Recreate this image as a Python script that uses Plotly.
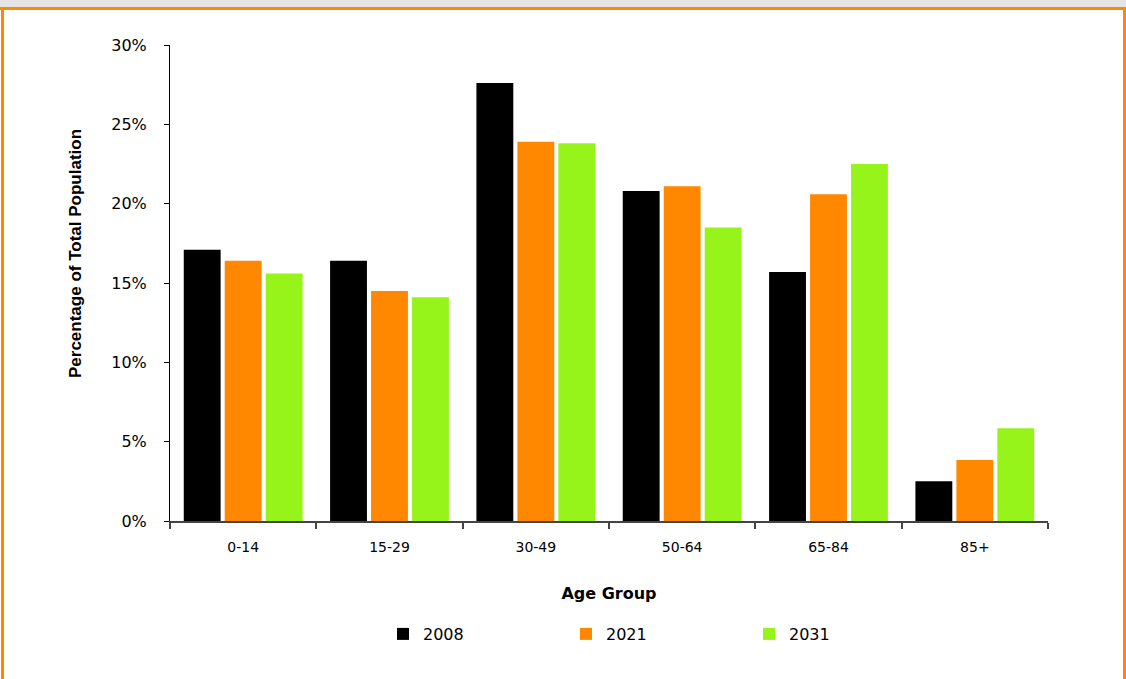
import plotly.graph_objects as go

categories = ["0-14", "15-29", "30-49", "50-64", "65-84", "85+"]
years = ["2008", "2021", "2031"]
v2008 = [17.1, 16.4, 27.6, 20.8, 15.7, 2.5]
v2021 = [16.4, 14.5, 23.9, 21.1, 20.6, 3.85]
v2031 = [15.6, 14.1, 23.8, 18.5, 22.5, 5.85]
colors = ["#000000", "#FF8800", "#96F41A"]

W, H = 1126, 679
L, R, T, B = 170, 78, 45, 158
pw, ph = W - L - R, H - T - B

def px(x):
    return (x - L) / pw

def py(y):
    return (H - B - y) / ph

fig = go.Figure()
for name, vals, c in zip(years, [v2008, v2021, v2031], colors):
    fig.add_trace(go.Bar(x=categories, y=vals, name=name, marker_color=c,
                         marker_line_width=0))

fig.update_layout(
    width=W, height=H,
    margin=dict(l=L, r=R, t=T, b=B),
    paper_bgcolor="white", plot_bgcolor="white",
    barmode="group", bargap=0.16, bargroupgap=0.1,
    font=dict(family="DejaVu Sans", size=14, color="#000"),
    showlegend=True,
    legend=dict(orientation="h", x=px(383), y=py(617), xanchor="left", yanchor="top",
                entrywidth=138, entrywidthmode="pixels",
                font=dict(family="DejaVu Sans", size=16)),
    xaxis=dict(showline=True, linecolor="#444", linewidth=2, ticks="outside",
               tickson="boundaries", ticklen=6, tickcolor="#444", tickwidth=2,
               tickfont=dict(size=14), showgrid=False, ticklabelstandoff=12,
               title=dict(text="<b>Age Group</b>", standoff=34,
                          font=dict(family="DejaVu Sans", size=16))),
    yaxis=dict(range=[0, 30], dtick=5, ticksuffix="%", showline=True, linecolor="#000",
               linewidth=1, ticks="outside", ticklen=5, tickcolor="#000",
               showgrid=False, zeroline=False, tickfont=dict(size=16),
               ticklabelstandoff=14),
    annotations=[dict(text="<b>Percentage of Total Population</b>", textangle=-90,
                      xref="paper", yref="paper", x=px(75), y=py(254),
                      xanchor="center", yanchor="middle", showarrow=False,
                      font=dict(family="Liberation Sans", size=17))],
)

shapes = [
    dict(type="rect", xref="paper", yref="paper", x0=px(0), x1=px(W), y0=py(0), y1=py(7),
         fillcolor="#E4E4E4", line_width=0, layer="below"),
    dict(type="rect", xref="paper", yref="paper", x0=px(0), x1=px(W), y0=py(7), y1=py(10),
         fillcolor="#FF8800", line_width=0),
    dict(type="rect", xref="paper", yref="paper", x0=px(1), x1=px(4), y0=py(7), y1=py(H),
         fillcolor="#FF8800", line_width=0),
    dict(type="rect", xref="paper", yref="paper", x0=px(1123), x1=px(1126), y0=py(7), y1=py(H),
         fillcolor="#FF8800", line_width=0),
]
fig.update_layout(shapes=shapes)

fig.write_html("out.html")
